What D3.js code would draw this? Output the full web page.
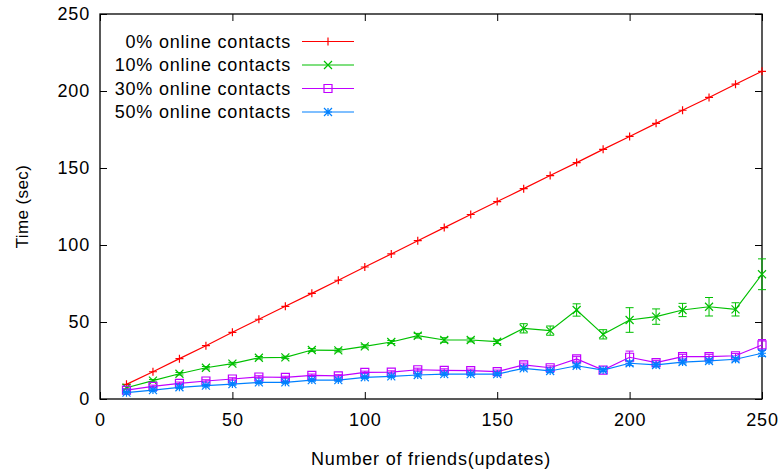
<!DOCTYPE html>
<html lang="en">
<head>
<meta charset="utf-8">
<title>Time vs number of friends</title>
<style>
  body { margin: 0; background: #fff; }
  text { font-family: "Liberation Sans", Arial, sans-serif; }
</style>
</head>
<body>
<script src="https://cdn.jsdelivr.net/npm/d3@7"></script>
<script>
// data
var friends = [10, 20, 30, 40, 50, 60, 70, 80, 90, 100, 110, 120, 130, 140, 150, 160, 170, 180, 190, 200, 210, 220, 230, 240, 250];
var online0 = [9.5, 17.7, 26.2, 34.6, 43.3, 51.8, 60.2, 68.6, 77.1, 85.7, 94.2, 102.8, 111.3, 119.8, 128.2, 136.6, 145.1, 153.5, 162.1, 170.5, 179.0, 187.5, 195.8, 204.4, 212.8];
var online10 = [7.3, 11.9, 16.4, 20.3, 23.0, 26.8, 27.0, 31.8, 31.6, 34.2, 37.0, 41.1, 38.3, 38.3, 37.2, 45.9, 44.4, 57.8, 42.0, 51.3, 53.5, 57.8, 59.9, 58.2, 81.0];
var online10Err = [0.8, 0.8, 0.8, 0.8, 0.8, 0.8, 0.8, 1.0, 1.0, 1.0, 1.0, 1.5, 1.5, 1.2, 1.2, 3.0, 3.0, 4.0, 3.0, 8.0, 5.0, 4.3, 6.0, 4.3, 10.0];
var online30 = [5.8, 8.2, 10.2, 11.7, 13.0, 14.3, 14.0, 15.4, 15.0, 17.3, 17.5, 19.0, 18.6, 18.4, 17.8, 22.1, 20.3, 26.0, 18.8, 27.1, 23.6, 27.5, 27.5, 28.1, 35.1];
var online30Err = [0.8, 0.8, 0.8, 0.8, 0.8, 0.8, 0.8, 0.8, 0.8, 0.8, 0.8, 1.0, 1.0, 1.0, 1.0, 1.2, 1.2, 1.5, 1.0, 4.0, 1.5, 1.5, 1.5, 1.5, 3.5];
var online50 = [4.1, 5.8, 7.6, 8.7, 9.7, 10.8, 10.8, 12.3, 12.3, 14.1, 14.7, 15.6, 16.2, 16.2, 16.2, 19.9, 18.2, 21.6, 18.8, 23.2, 22.1, 24.0, 24.7, 25.8, 29.7];
var online50Err = [0.8, 0.8, 0.8, 0.8, 0.8, 0.8, 0.8, 0.8, 0.8, 0.8, 0.8, 0.8, 0.8, 0.8, 0.8, 1.0, 1.0, 1.2, 1.0, 1.5, 1.2, 1.2, 1.2, 1.2, 2.0];
var seriesNames = ["0% online contacts", "10% online contacts", "30% online contacts", "50% online contacts"];
var xTicks = [0, 50, 100, 150, 200, 250];
var yTicks = [0, 50, 100, 150, 200, 250];

var width = 783, height = 469;
var padLeft = 100, padRight = 762, padTop = 14, padBottom = 399;
var font = "'Liberation Sans', Arial, sans-serif";

var svg = d3.select("body").append("svg").attr("width", width).attr("height", height);

var x = d3.scaleLinear().domain([0, 250]).range([padLeft, padRight]);
var y = d3.scaleLinear().domain([0, 250]).range([padBottom, padTop]);

var series = [
  {name: seriesNames[0], vals: online0, err: null, color: "#ff0000", mark: "plus"},
  {name: seriesNames[1], vals: online10, err: online10Err, color: "#00c000", mark: "cross"},
  {name: seriesNames[2], vals: online30, err: online30Err, color: "#c000ff", mark: "square"},
  {name: seriesNames[3], vals: online50, err: online50Err, color: "#0080ff", mark: "star"}
];

// axes with inward ticks, mirrored
svg.append("g").attr("transform", "translate(0," + padBottom + ")")
  .call(d3.axisBottom(x).tickValues(xTicks).tickSizeInner(-7).tickSizeOuter(0).tickPadding(14));
svg.append("g").attr("transform", "translate(0," + padTop + ")")
  .call(d3.axisTop(x).tickValues(xTicks).tickSizeInner(-7).tickSizeOuter(0).tickFormat(""));
svg.append("g").attr("transform", "translate(" + padLeft + ",0)")
  .call(d3.axisLeft(y).tickValues(yTicks).tickSizeInner(-7).tickSizeOuter(0).tickPadding(10));
svg.append("g").attr("transform", "translate(" + padRight + ",0)")
  .call(d3.axisRight(y).tickValues(yTicks).tickSizeInner(-7).tickSizeOuter(0).tickFormat(""));
svg.selectAll(".domain").remove();
svg.selectAll(".tick line").attr("stroke", "#000");
svg.selectAll(".tick text").attr("fill", "#000").style("font-size", "18px")
  .style("letter-spacing", "0.8px").style("font-family", font);

svg.append("rect").attr("x", padLeft).attr("y", padTop)
  .attr("width", padRight - padLeft).attr("height", padBottom - padTop)
  .attr("fill", "none").attr("stroke", "#000").attr("stroke-width", 1.3);

function drawMark(g, kind, cx, cy, color) {
  var s = 4;
  var p;
  if (kind == "plus") p = "M" + (cx - s) + "," + cy + "h" + 2 * s + "M" + cx + "," + (cy - s) + "v" + 2 * s;
  else if (kind == "cross") p = "M" + (cx - s) + "," + (cy - s) + "l" + 2 * s + "," + 2 * s + "M" + (cx - s) + "," + (cy + s) + "l" + 2 * s + "," + -2 * s;
  else if (kind == "star") p = "M" + (cx - s) + "," + cy + "h" + 2 * s + "M" + cx + "," + (cy - s) + "v" + 2 * s +
    "M" + (cx - s) + "," + (cy - s) + "l" + 2 * s + "," + 2 * s + "M" + (cx - s) + "," + (cy + s) + "l" + 2 * s + "," + -2 * s;
  else p = "M" + (cx - s) + "," + (cy - s) + "h" + 2 * s + "v" + 2 * s + "h" + -2 * s + "Z";
  g.append("path").attr("d", p).attr("fill", "none").attr("stroke", color).attr("stroke-width", 1.2);
}

var line = d3.line().x(function (d, i) { return x(friends[i]); }).y(function (d) { return y(d); });

series.forEach(function (s) {
  var g = svg.append("g");
  g.append("path").datum(s.vals).attr("d", line)
    .attr("fill", "none").attr("stroke", s.color).attr("stroke-width", 1.2);
  if (s.err) {
    s.vals.forEach(function (v, i) {
      var cx = x(friends[i]);
      var y0 = y(v - s.err[i]), y1 = y(v + s.err[i]);
      g.append("path")
        .attr("d", "M" + cx + "," + y0 + "V" + y1 + "M" + (cx - 4) + "," + y0 + "h8M" + (cx - 4) + "," + y1 + "h8")
        .attr("fill", "none").attr("stroke", s.color).attr("stroke-width", 1);
    });
  }
  s.vals.forEach(function (v, i) { drawMark(g, s.mark, x(friends[i]), y(v), s.color); });
});

// legend
var legend = svg.append("g");
series.forEach(function (s, i) {
  var ly = 41.5 + i * 23.5;
  legend.append("text").attr("x", 291).attr("y", ly).attr("dy", "0.35em")
    .attr("text-anchor", "end").style("font-size", "18px").style("letter-spacing", "0.8px").text(s.name);
  legend.append("line").attr("x1", 302).attr("x2", 354).attr("y1", ly).attr("y2", ly)
    .attr("stroke", s.color).attr("stroke-width", 1.2);
  drawMark(legend, s.mark, 328, ly, s.color);
});

// axis titles
svg.append("text").attr("x", (padLeft + padRight) / 2).attr("y", 465)
  .attr("text-anchor", "middle").style("font-size", "18px").style("letter-spacing", "0.8px")
  .text("Number of friends(updates)");
svg.append("text").attr("transform", "translate(28," + (padTop + padBottom) / 2 + ") rotate(-90)")
  .attr("text-anchor", "middle").style("font-size", "17px").style("letter-spacing", "0.4px")
  .text("Time (sec)");
</script>
</body>
</html>
